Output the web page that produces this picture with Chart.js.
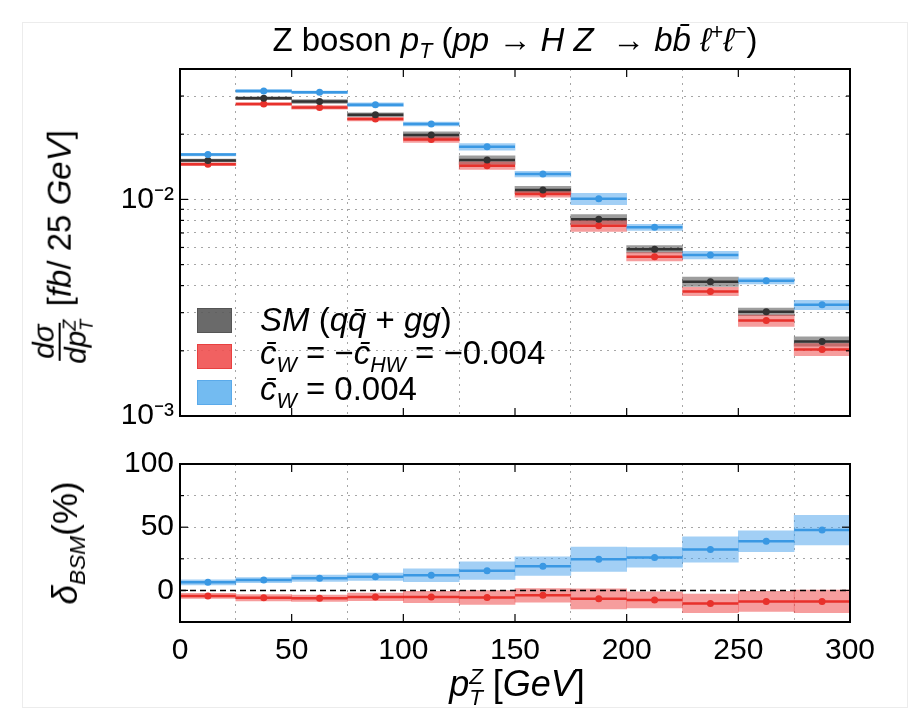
<!DOCTYPE html>
<html>
<head>
<meta charset="utf-8">
<title>Z boson pT</title>
<script src="https://cdn.jsdelivr.net/npm/chart.js@4"></script>
<style>
    body { margin: 0; background: #fff; font-family: "Liberation Sans", Arial, sans-serif; color: #000; }
    #wrap { position: relative; width: 917px; height: 728px; overflow: hidden; }
    canvas { position: absolute; left: 0; }
    #topChart { top: 0; }
    #bottomChart { top: 440px; }
    .frame { position: absolute; left: 22px; top: 22px; width: 884px; height: 684px; border: 1px solid #ececec; }
    .title { position: absolute; left: 180px; width: 670px; top: 42px; transform: translateY(-50%); text-align: center; font-size: 33px; white-space: nowrap; }
    .legend { position: absolute; left: 197px; top: 302px; font-size: 33px; }
    .legend .row { height: 36px; display: flex; align-items: center; white-space: nowrap; }
    .legend .box { width: 35px; height: 25px; margin-right: 28px; box-sizing: border-box; }
    .ylab { position: absolute; transform: translate(-50%, -50%) rotate(-90deg); white-space: nowrap; font-size: 33px; }
    .xlab { position: absolute; left: 517px; top: 686px; transform: translate(-50%, -50%); white-space: nowrap; font-size: 36px; }
    .frac { display: inline-flex; flex-direction: column; align-items: center; vertical-align: middle; font-size: 0.9em; line-height: 1.0; margin-right: 4px; }
    .frac .num { border-bottom: 2px solid #000; padding: 0 2px; }
    .ss { display: inline-block; vertical-align: -0.4em; font-size: 0.62em; line-height: 0.95; font-style: italic; }
    .ss span { display: block; }
    sub, sup { font-size: 0.65em; }
</style>
</head>
<body>
<div id="wrap">
    <div class="frame"></div>
    <canvas id="topChart" width="917" height="440"></canvas>
    <canvas id="bottomChart" width="917" height="288"></canvas>

    <div class="title">Z boson <i>p</i><sub><i>T</i></sub> (<i>pp</i> → <i>H Z</i> &nbsp;→ <i>b</i><i>b̄</i> <i>ℓ</i><sup>+</sup><i>ℓ</i><sup>−</sup>)</div>

    <div class="legend">
        <div class="row"><span class="box" style="background:rgba(90,90,90,0.9);border:1px solid #555"></span><span><i>SM</i> (<i>q</i><i>q̄</i> + <i>gg</i>)</span></div>
        <div class="row"><span class="box" style="background:rgba(240,80,80,0.9);border:1px solid #e84040"></span><span><i>c̄<sub>W</sub></i> = −<i>c̄<sub>HW</sub></i> = −0.004</span></div>
        <div class="row"><span class="box" style="background:rgba(100,180,240,0.9);border:1px solid #5aaaea"></span><span><i>c̄<sub>W</sub></i> = 0.004</span></div>
    </div>

    <div class="ylab" style="left:62px;top:247px;"><span class="frac"><span class="num"><i>dσ</i></span><span><i>dp</i><span class="ss"><span>Z</span><span>T</span></span></span></span> [<i>fb</i>/ 25 <i>GeV</i>]</div>
    <div class="ylab" style="left:68px;top:543px;font-size:35px;"><i>δ<sub>BSM</sub></i>(%)</div>
    <div class="xlab"><i>p</i><span class="ss"><span>Z</span><span>T</span></span> [<i>GeV</i>]</div>
</div>

<script>
    // bins of 25 GeV
    const binCenters = [12.5, 37.5, 62.5, 87.5, 112.5, 137.5, 162.5, 187.5, 212.5, 237.5, 262.5, 287.5];
    const binWidth = 25;

    // dsigma/dpT [fb / 25 GeV]
    const smValues   = [0.01514, 0.0293, 0.0283, 0.02458, 0.01983, 0.0152, 0.01106, 0.0081, 0.00589, 0.00417, 0.00303, 0.00221];
    const cwNegValues = [0.01453, 0.02754, 0.0266, 0.02348, 0.01888, 0.01432, 0.0106, 0.00756, 0.00544, 0.00376, 0.00276, 0.00203];
    const cwPosValues = [0.0161, 0.0317, 0.0312, 0.02735, 0.0223, 0.0175, 0.0131, 0.01007, 0.00743, 0.00554, 0.00421, 0.00326];
    // band half-widths in percent
    const smErr    = [1.5, 1.5, 2, 2, 3.5, 4.5, 4, 5, 4, 5, 4, 5];
    const cwNegErr = [1.5, 1.5, 2, 2, 3, 4, 3.5, 6, 4.5, 4.5, 6, 6.5];
    const cwPosErr = [1.5, 1.5, 1.5, 2, 2, 3.5, 3, 6, 3.3, 4, 3.3, 5];

    // delta_BSM (%)
    const deltaPos    = [6.4, 8.2, 9.7, 10.8, 12, 15.6, 19.2, 24.6, 26.1, 32.3, 38.9, 47.7];
    const deltaPosErr = [2, 2, 2.5, 3, 5, 7, 7.3, 9.6, 7.7, 10, 8.3, 11.7];
    const deltaNeg    = [-4.4, -5.9, -6.2, -5.2, -5.2, -5.6, -3.9, -6.7, -7.5, -10.3, -8.7, -8.7];
    const deltaNegErr = [2, 2.5, 2.5, 3, 4.5, 5.4, 5.4, 8, 6.4, 7.3, 8, 9];

    const xTicks = [0, 50, 100, 150, 200, 250, 300];
    const topTicks = [0.001, 0.002, 0.003, 0.004, 0.005, 0.006, 0.007, 0.008, 0.009, 0.01, 0.02, 0.03, 0.04];
    const topTickLabels = { 0.01: '10⁻²', 0.001: '10⁻³' };
    const bottomTicks = [-25, 0, 25, 50, 75, 100];
    const bottomTickLabels = [0, 50, 100];

    const colSM = '#333333', colNeg = '#e8312b', colPos = '#3a98e3';
    const bandSM = 'rgba(60,60,60,0.5)', bandNeg = 'rgba(238,60,60,0.5)', bandPos = 'rgba(70,160,235,0.5)';

    const font = { family: "'Liberation Sans', Arial, sans-serif", size: 30 };

    function segments(vals) {
        const pts = [];
        binCenters.forEach((c, i) => {
            pts.push({ x: c - binWidth / 2, y: vals[i] }, { x: c + binWidth / 2, y: vals[i] }, { x: c + binWidth / 2, y: null });
        });
        return pts;
    }
    const points = vals => binCenters.map((c, i) => ({ x: c, y: vals[i] }));
    const relBand = (vals, err) => binCenters.map((c, i) => ({ x: c, y: [vals[i] * (1 - err[i] / 100), vals[i] * (1 + err[i] / 100)] }));
    const absBand = (vals, err) => binCenters.map((c, i) => ({ x: c, y: [vals[i] - err[i], vals[i] + err[i]] }));

    function band(data, color, order) {
        return { type: 'bar', data, backgroundColor: color, borderWidth: 0, grouped: false,
                 barPercentage: 1, categoryPercentage: 1, order };
    }
    function line(data, color, order) {
        return { type: 'line', data, borderColor: color, borderWidth: 2.5, pointRadius: 0, spanGaps: false, order };
    }
    function dots(data, color, order) {
        return { type: 'line', data, showLine: false, pointRadius: 3.5, pointBackgroundColor: color,
                 pointBorderWidth: 0, order };
    }

    // frame + inward ticks, and optional dashed zero line
    const framePlugin = {
        id: 'frame',
        afterDatasetsDraw(chart, args, opts) {
            if (!opts.zeroLine) return;
            const { ctx, chartArea: a, scales } = chart;
            const y0 = scales.y.getPixelForValue(0);
            ctx.save();
            ctx.strokeStyle = '#000';
            ctx.lineWidth = 1.5;
            ctx.setLineDash([6, 4]);
            ctx.beginPath();
            ctx.moveTo(a.left, y0);
            ctx.lineTo(a.right, y0);
            ctx.stroke();
            ctx.restore();
        },
        afterDraw(chart, args, opts) {
            const { ctx, chartArea: a, scales } = chart;
            ctx.save();
            ctx.strokeStyle = '#000';
            ctx.lineWidth = 1.2;
            const seg = (x1, y1, x2, y2) => { ctx.beginPath(); ctx.moveTo(x1, y1); ctx.lineTo(x2, y2); ctx.stroke(); };
            scales.x.ticks.forEach(t => {
                const px = scales.x.getPixelForValue(t.value);
                seg(px, a.top, px, a.top + 8);
                seg(px, a.bottom, px, a.bottom - 8);
            });
            scales.y.ticks.forEach(t => {
                const py = scales.y.getPixelForValue(t.value);
                const len = opts.major.includes(t.value) ? 8 : 4;
                seg(a.left, py, a.left + len, py);
                seg(a.right, py, a.right - len, py);
            });
            ctx.lineWidth = 2;
            ctx.strokeRect(a.left, a.top, a.right - a.left, a.bottom - a.top);
            ctx.restore();
        }
    };

    const gridOpts = { color: 'rgba(0,0,0,0.35)', lineWidth: 1, drawTicks: false };
    const borderOpts = { display: false, dash: [2, 5] };

    new Chart(document.getElementById('topChart'), {
        type: 'bar',
        data: {
            datasets: [
                dots(points(cwPosValues), colPos, 1),
                dots(points(smValues), colSM, 1),
                dots(points(cwNegValues), colNeg, 1),
                line(segments(cwPosValues), colPos, 2),
                line(segments(smValues), colSM, 2),
                line(segments(cwNegValues), colNeg, 2),
                band(relBand(cwPosValues, cwPosErr), bandPos, 3),
                band(relBand(cwNegValues, cwNegErr), bandNeg, 3),
                band(relBand(smValues, smErr), bandSM, 4)
            ]
        },
        options: {
            responsive: false,
            animation: false,
            events: [],
            layout: { padding: { top: 69, right: 67, bottom: 15, left: 0 } },
            plugins: { legend: { display: false }, tooltip: { enabled: false }, frame: { major: [0.01, 0.001] } },
            scales: {
                x: {
                    type: 'linear', min: 0, max: 300, offset: false,
                    afterBuildTicks: s => { s.ticks = xTicks.map(v => ({ value: v })); },
                    afterFit: s => { s.height = 0; },
                    ticks: { display: false },
                    grid: gridOpts, border: borderOpts
                },
                y: {
                    type: 'logarithmic', min: 0.001, max: 0.04,
                    afterBuildTicks: s => { s.ticks = topTicks.map(v => ({ value: v })); },
                    afterFit: s => { s.width = 180; },
                    ticks: { autoSkip: false, padding: 6, color: '#000', font,
                             callback: v => topTickLabels[v] || '' },
                    grid: gridOpts, border: borderOpts
                }
            }
        },
        plugins: [framePlugin]
    });

    new Chart(document.getElementById('bottomChart'), {
        type: 'bar',
        data: {
            datasets: [
                dots(points(deltaPos), colPos, 1),
                dots(points(deltaNeg), colNeg, 1),
                line(segments(deltaPos), colPos, 2),
                line(segments(deltaNeg), colNeg, 2),
                band(absBand(deltaPos, deltaPosErr), bandPos, 3),
                band(absBand(deltaNeg, deltaNegErr), bandNeg, 3)
            ]
        },
        options: {
            responsive: false,
            animation: false,
            events: [],
            layout: { padding: { top: 19, right: 67, bottom: 0, left: 0 } },
            plugins: { legend: { display: false }, tooltip: { enabled: false }, frame: { major: bottomTickLabels, zeroLine: true } },
            scales: {
                x: {
                    type: 'linear', min: 0, max: 300, offset: false,
                    afterBuildTicks: s => { s.ticks = xTicks.map(v => ({ value: v })); },
                    afterFit: s => { s.height = 106; },
                    ticks: { autoSkip: false, maxRotation: 0, padding: 11, color: '#000', font },
                    grid: gridOpts, border: borderOpts
                },
                y: {
                    type: 'linear', min: -25, max: 100,
                    afterBuildTicks: s => { s.ticks = bottomTicks.map(v => ({ value: v })); },
                    afterFit: s => { s.width = 180; },
                    ticks: { autoSkip: false, padding: 6, color: '#000', font,
                             callback: v => bottomTickLabels.includes(v) ? String(v) : '' },
                    grid: { ...gridOpts, color: ctx => ctx.tick && ctx.tick.value === 0 ? 'rgba(0,0,0,0)' : 'rgba(0,0,0,0.35)' },
                    border: borderOpts
                }
            }
        },
        plugins: [framePlugin]
    });
</script>
</body>
</html>
